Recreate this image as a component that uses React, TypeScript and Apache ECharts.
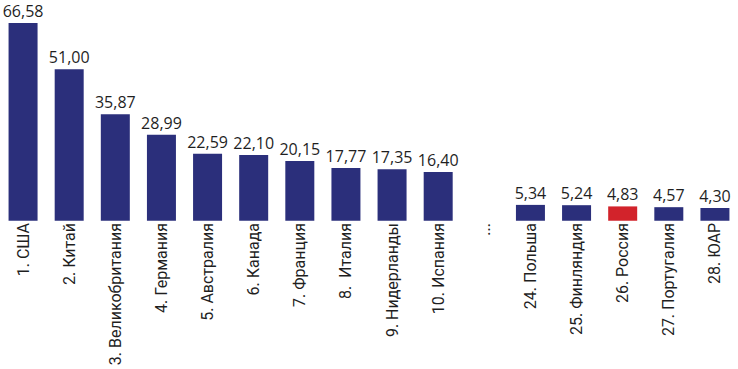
import React, { useEffect, useRef } from "react";
import * as echarts from "echarts";

const categories = [
  "1. США",
  "2. Китай",
  "3. Великобритания",
  "4. Германия",
  "5. Австралия",
  "6. Канада",
  "7. Франция",
  "8.  Италия",
  "9. Нидерланды",
  "10. Испания",
  "...",
  "24. Польша",
  "25. Финляндия",
  "26. Россия",
  "27. Португалия",
  "28. ЮАР",
];
const values: (number | null)[] = [
  66.58, 51.0, 35.87, 28.99, 22.59, 22.1, 20.15, 17.77, 17.35, 16.4, null, 5.34, 5.24, 4.83, 4.57, 4.3,
];
const highlighted = "26. Россия";
const axisMin = 1.6;
const axisMax = 67.6;

const NAVY = "#2B2F7B";
const RED = "#D2232B";

export default function App() {
  const ref = useRef<HTMLDivElement>(null);
  useEffect(() => {
    if (!ref.current) return;
    const chart = echarts.init(ref.current, undefined, { renderer: "svg" });
    chart.setOption({
      animation: false,
      grid: { left: -1, right: -8, top: 20, bottom: 153, containLabel: false },
      xAxis: {
        type: "category",
        data: categories,
        axisLine: { show: false },
        axisTick: { show: false },
        axisLabel: {
          rotate: 90,
          interval: 0,
          margin: 7,
          color: "#1f1f1f",
          fontSize: 16,
          fontFamily: "Roboto",
        },
      },
      yAxis: {
        type: "value",
        min: axisMin,
        max: axisMax,
        show: false,
        splitLine: { show: false },
      },
      series: [
        {
          type: "bar",
          barWidth: 29,
          clip: false,
          data: values.map((v, i) =>
            v === null
              ? "-"
              : {
                  value: v,
                  itemStyle: { color: categories[i] === highlighted ? RED : NAVY },
                }
          ),
          label: {
            show: true,
            position: "top",
            distance: 4,
            color: "#1f1f1f",
            fontSize: 16,
            fontFamily: "Open Sans",
            formatter: (p: any) => Number(p.value).toFixed(2).replace(".", ","),
          },
        },
      ],
    });
    return () => chart.dispose();
  }, []);
  return (
    <div
      ref={ref}
      style={{ position: "absolute", left: 0, top: 0, width: 738, height: 369 }}
    />
  );
}
